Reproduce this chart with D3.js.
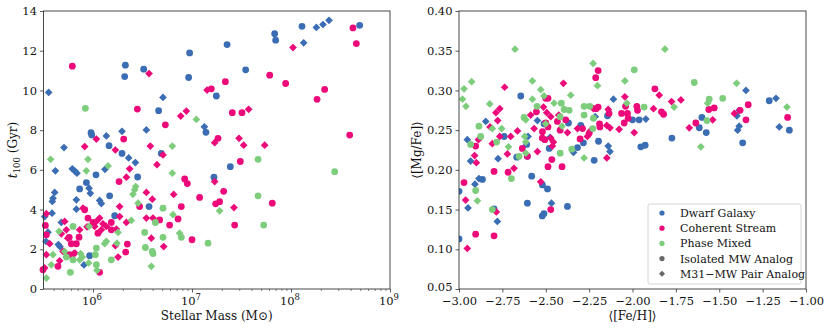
<!DOCTYPE html>
<html>
<head>
<meta charset="utf-8">
<script src="https://cdn.jsdelivr.net/npm/d3@7"></script>
<style>
  body { margin: 0; background: #fff; }
  svg { display: block; }
  text { font-family: "DejaVu Serif", serif; fill: #111; }
</style>
</head>
<body>
<div id="showBox"></div>
<script>
// host: 'I' = isolated MW analog (circle), 'P' = M31-MW pair analog (diamond)
// left panel: [log10 stellar mass, t100 (Gyr), host]
const massDwarf = [
  [8.384,13.53,'P'],[8.323,13.32,'P'],[8.256,13.17,'P'],[8.694,13.28,'I'],[8.111,13.23,'I'],
  [8.128,12.40,'P'],[7.835,12.86,'I'],[7.845,12.53,'I'],[7.354,12.31,'I'],[6.976,11.89,'I'],
  [6.327,11.27,'I'],[6.320,10.70,'I'],[6.512,11.07,'I'],[6.966,10.65,'I'],[7.542,11.04,'I'],
  [5.552,9.90,'P'],[6.707,9.65,'P'],[7.246,9.72,'I'],[6.663,8.98,'I'],[6.539,8.01,'P'],
  [6.293,7.94,'P'],[5.980,7.87,'I'],[5.987,7.76,'I'],[6.135,7.71,'P'],[7.125,8.17,'P'],
  [7.141,7.89,'I'],[5.707,7.12,'P'],[6.162,7.22,'I'],[6.293,6.83,'I'],[6.690,6.83,'I'],
  [6.360,6.60,'P'],[6.428,6.37,'P'],[6.121,6.03,'P'],[6.030,5.75,'I'],[6.451,5.64,'I'],
  [7.387,6.16,'I'],[7.222,5.63,'I'],[5.791,6.05,'P'],[5.815,5.95,'P'],[5.838,5.83,'P'],
  [5.620,5.95,'P'],[5.865,5.04,'I'],[5.832,4.49,'P'],[5.832,4.02,'P'],[5.933,5.36,'I'],
  [5.960,5.08,'P'],[5.973,4.82,'P'],[5.613,4.86,'P'],[5.596,4.57,'P'],[5.589,4.41,'P'],
  [5.586,3.82,'P'],[5.512,3.65,'P'],[6.067,4.46,'P'],[6.084,4.30,'P'],[6.168,4.69,'I'],
  [6.219,3.69,'I'],[6.566,4.15,'I'],[5.545,2.86,'P'],[5.525,2.40,'P'],[5.650,2.24,'P'],
  [5.667,2.13,'P'],[5.680,3.35,'P'],[5.909,1.21,'P'],[5.966,1.68,'I']
];
const massStream = [
  [5.791,11.22,'I'],[6.566,10.85,'P'],[6.448,9.06,'I'],[6.886,8.71,'P'],[6.943,8.96,'P'],
  [6.731,8.27,'I'],[6.310,7.55,'I'],[6.034,7.55,'P'],[5.916,7.17,'P'],[6.579,7.20,'P'],
  [6.226,7.00,'P'],[6.707,6.75,'P'],[6.646,6.26,'P'],[6.263,5.41,'I'],[6.337,5.63,'P'],
  [6.370,6.05,'P'],[6.539,4.86,'P'],[6.599,4.52,'P'],[6.926,5.54,'I'],[6.953,5.31,'I'],
  [6.774,3.22,'I'],[6.892,4.15,'I'],[6.815,4.76,'P'],[7.000,2.48,'I'],[6.714,2.14,'P'],
  [6.589,2.56,'P'],[6.539,3.57,'P'],[6.606,3.57,'P'],[6.673,3.48,'I'],[6.471,4.15,'I'],
  [6.337,3.35,'P'],[6.347,2.26,'I'],[6.330,1.86,'I'],[6.253,1.61,'P'],[6.226,2.18,'P'],
  [6.236,3.02,'P'],[6.185,3.35,'I'],[6.185,2.98,'I'],[6.269,3.65,'P'],[6.269,4.15,'P'],
  [6.067,3.57,'P'],[6.101,3.28,'P'],[6.000,3.35,'I'],[5.949,3.57,'I'],[5.916,3.99,'I'],
  [5.899,4.07,'P'],[5.865,2.98,'P'],[5.859,2.61,'I'],[5.832,2.28,'I'],[5.805,1.78,'P'],
  [5.731,2.98,'P'],[5.714,3.40,'P'],[5.697,1.89,'P'],[5.663,1.42,'P'],[5.646,1.14,'I'],
  [5.529,3.79,'P'],[5.562,2.28,'P'],[5.529,2.73,'I'],[5.519,3.20,'I'],[5.529,1.73,'P'],
  [5.495,0.97,'I'],[5.512,1.06,'P'],[6.067,0.84,'I'],[5.781,2.28,'I'],[5.764,1.73,'I'],
  [5.818,1.81,'P'],[6.034,3.40,'P'],[6.084,2.98,'P'],[6.050,2.81,'I'],[6.135,3.15,'P'],
  [6.017,3.15,'P'],[5.745,2.56,'P'],[5.760,2.60,'I'],[5.680,2.78,'P'],[5.940,3.13,'P'],
  [6.859,3.53,'I'],[7.077,4.61,'I'],[7.229,5.41,'P'],[7.263,7.59,'I'],[7.229,7.37,'P'],
  [7.152,10.02,'P'],[7.195,10.08,'I'],[7.337,10.44,'I'],[7.279,4.40,'I'],[7.239,4.29,'I'],
  [7.320,4.92,'I'],[7.407,8.88,'I'],[7.505,8.88,'I'],[7.572,9.05,'P'],[7.475,7.59,'P'],
  [7.522,7.24,'P'],[7.488,6.42,'I'],[7.424,4.10,'P'],[7.431,3.22,'I'],[7.734,7.24,'P'],
  [7.811,4.32,'I'],[7.785,10.77,'I'],[7.946,10.35,'I'],[8.020,12.16,'P'],[8.263,9.55,'I'],
  [8.340,10.05,'I'],[8.593,7.75,'I'],[8.626,13.15,'I'],[8.660,12.36,'I']
];
const massMixed = [
  [5.923,9.10,'I'],[7.044,8.54,'P'],[6.801,7.20,'P'],[6.801,5.83,'P'],[7.667,6.53,'I'],
  [8.441,5.91,'I'],[7.667,4.69,'I'],[7.724,3.22,'I'],[7.279,3.94,'P'],[7.162,2.31,'I'],
  [6.875,2.81,'P'],[6.892,2.60,'I'],[6.808,3.74,'P'],[6.707,4.07,'I'],[6.630,3.35,'I'],
  [6.707,2.60,'I'],[6.522,2.85,'I'],[6.529,2.09,'I'],[6.599,1.89,'I'],[6.606,1.78,'I'],
  [6.589,1.14,'P'],[6.431,5.16,'P'],[6.421,5.00,'P'],[6.404,4.77,'P'],[6.455,4.32,'P'],
  [6.387,3.45,'P'],[6.253,2.85,'P'],[6.242,2.31,'P'],[6.185,1.47,'I'],[6.135,2.40,'P'],
  [6.118,2.28,'P'],[6.034,2.06,'I'],[6.024,1.73,'I'],[6.034,1.22,'I'],[6.040,0.94,'P'],
  [6.152,6.20,'P'],[5.949,6.53,'P'],[5.933,5.95,'P'],[5.960,3.15,'P'],[5.956,1.31,'P'],
  [5.892,1.61,'P'],[5.875,1.78,'P'],[5.865,1.47,'P'],[5.798,1.47,'I'],[5.771,0.84,'I'],
  [5.798,3.15,'I'],[5.731,1.61,'I'],[5.714,1.89,'P'],[5.657,2.90,'P'],[5.596,1.73,'P'],
  [5.579,1.22,'P'],[5.529,0.55,'P'],[5.572,6.53,'P']
];

// right panel: [<[Fe/H]>, <[Mg/Fe]>, host]
const abundDwarf = [
  [-2.644,0.293,'I'],[-2.846,0.261,'P'],[-2.952,0.238,'P'],[-2.933,0.211,'P'],[-2.908,0.182,'P'],
  [-2.885,0.189,'P'],[-2.865,0.188,'I'],[-3.000,0.173,'I'],[-3.000,0.113,'I'],[-2.948,0.152,'P'],
  [-2.798,0.151,'I'],[-2.779,0.135,'P'],[-2.775,0.214,'P'],[-2.740,0.242,'I'],[-2.667,0.216,'I'],
  [-2.606,0.217,'I'],[-2.610,0.232,'I'],[-2.602,0.242,'P'],[-2.581,0.192,'I'],[-2.606,0.158,'I'],
  [-2.548,0.262,'P'],[-2.510,0.258,'I'],[-2.519,0.181,'I'],[-2.490,0.176,'I'],[-2.510,0.145,'I'],
  [-2.520,0.142,'I'],[-2.467,0.158,'P'],[-2.480,0.227,'I'],[-2.475,0.241,'P'],[-2.375,0.154,'I'],
  [-2.369,0.259,'I'],[-2.340,0.222,'P'],[-2.317,0.228,'I'],[-2.298,0.256,'I'],[-2.283,0.234,'I'],
  [-2.215,0.267,'P'],[-2.221,0.212,'I'],[-2.196,0.236,'I'],[-2.144,0.268,'I'],[-2.140,0.230,'P'],
  [-2.130,0.223,'P'],[-2.110,0.289,'P'],[-2.000,0.263,'I'],[-1.962,0.263,'I'],[-1.923,0.264,'P'],
  [-1.952,0.229,'I'],[-1.927,0.231,'I'],[-1.773,0.240,'I'],[-1.615,0.253,'I'],[-1.600,0.266,'I'],
  [-1.575,0.247,'I'],[-1.398,0.268,'P'],[-1.385,0.275,'P'],[-1.394,0.250,'P'],[-1.385,0.255,'P'],
  [-1.365,0.234,'I'],[-1.346,0.300,'P'],[-1.212,0.287,'I'],[-1.173,0.290,'P'],[-1.154,0.254,'P'],
  [-1.096,0.250,'I']
];
const abundStream = [
  [-2.737,0.304,'P'],[-2.398,0.309,'P'],[-2.212,0.316,'I'],[-2.198,0.325,'I'],[-2.765,0.277,'P'],
  [-2.787,0.272,'P'],[-2.777,0.262,'P'],[-2.821,0.254,'P'],[-2.765,0.242,'P'],[-2.808,0.233,'P'],
  [-2.888,0.238,'P'],[-2.904,0.230,'I'],[-2.910,0.218,'P'],[-2.900,0.209,'P'],[-2.971,0.184,'I'],
  [-2.962,0.162,'P'],[-2.952,0.101,'P'],[-2.904,0.119,'I'],[-2.798,0.198,'I'],[-2.798,0.117,'I'],
  [-2.785,0.147,'P'],[-2.721,0.220,'P'],[-2.702,0.242,'P'],[-2.717,0.197,'I'],[-2.663,0.249,'P'],
  [-2.683,0.202,'P'],[-2.635,0.227,'I'],[-2.606,0.217,'I'],[-2.587,0.269,'P'],[-2.554,0.273,'I'],
  [-2.567,0.252,'P'],[-2.520,0.240,'I'],[-2.519,0.248,'I'],[-2.505,0.238,'I'],[-2.548,0.223,'P'],
  [-2.529,0.185,'P'],[-2.513,0.279,'P'],[-2.487,0.290,'I'],[-2.500,0.290,'I'],[-2.494,0.272,'P'],
  [-2.500,0.259,'I'],[-2.487,0.254,'I'],[-2.487,0.204,'I'],[-2.471,0.267,'P'],[-2.471,0.240,'P'],
  [-2.462,0.230,'P'],[-2.456,0.235,'P'],[-2.465,0.213,'I'],[-2.471,0.150,'I'],[-2.433,0.261,'I'],
  [-2.425,0.269,'P'],[-2.406,0.204,'I'],[-2.417,0.250,'I'],[-2.385,0.263,'I'],[-2.375,0.247,'P'],
  [-2.317,0.252,'P'],[-2.302,0.239,'I'],[-2.288,0.252,'I'],[-2.260,0.242,'P'],[-2.250,0.246,'I'],
  [-2.240,0.250,'P'],[-2.225,0.277,'P'],[-2.210,0.277,'I'],[-2.198,0.279,'I'],[-2.190,0.258,'I'],
  [-2.188,0.254,'I'],[-2.148,0.256,'P'],[-2.130,0.253,'P'],[-2.148,0.215,'P'],[-2.140,0.276,'P'],
  [-2.135,0.271,'I'],[-2.077,0.251,'P'],[-2.063,0.271,'I'],[-2.044,0.292,'P'],[-2.048,0.259,'I'],
  [-2.040,0.280,'I'],[-2.029,0.271,'I'],[-2.025,0.265,'I'],[-1.990,0.247,'P'],[-1.975,0.280,'I'],
  [-1.971,0.275,'I'],[-1.879,0.277,'P'],[-1.871,0.302,'I'],[-1.846,0.294,'P'],[-1.833,0.273,'I'],
  [-1.821,0.270,'I'],[-1.775,0.286,'P'],[-1.721,0.288,'P'],[-1.673,0.253,'P'],[-1.635,0.259,'I'],
  [-1.560,0.276,'I'],[-1.538,0.263,'P'],[-1.529,0.278,'I'],[-1.413,0.271,'P'],[-1.380,0.275,'I'],
  [-1.346,0.263,'I'],[-1.333,0.282,'I'],[-1.106,0.266,'I']
];
const abundMixed = [
  [-2.677,0.352,'P'],[-1.813,0.352,'P'],[-2.227,0.334,'P'],[-1.990,0.326,'I'],[-2.044,0.312,'P'],
  [-1.644,0.310,'I'],[-1.400,0.309,'P'],[-2.927,0.311,'P'],[-2.971,0.302,'P'],[-2.980,0.289,'P'],
  [-2.960,0.280,'P'],[-2.577,0.312,'P'],[-2.529,0.301,'P'],[-2.510,0.293,'P'],[-2.577,0.289,'P'],
  [-2.550,0.280,'I'],[-2.823,0.283,'P'],[-2.452,0.284,'P'],[-2.410,0.284,'I'],[-2.356,0.294,'P'],
  [-2.365,0.275,'I'],[-2.394,0.276,'I'],[-2.279,0.280,'I'],[-2.246,0.280,'I'],[-2.279,0.269,'I'],
  [-2.225,0.265,'I'],[-2.202,0.306,'P'],[-2.033,0.284,'P'],[-1.933,0.279,'I'],[-1.760,0.279,'P'],
  [-1.558,0.289,'I'],[-1.480,0.290,'I'],[-1.567,0.284,'P'],[-1.571,0.262,'I'],[-1.606,0.229,'P'],
  [-1.110,0.279,'P'],[-2.885,0.255,'I'],[-2.875,0.242,'I'],[-2.933,0.232,'I'],[-2.808,0.252,'P'],
  [-2.754,0.252,'P'],[-2.715,0.229,'P'],[-2.698,0.189,'I'],[-2.808,0.150,'I'],[-2.904,0.174,'I'],
  [-2.894,0.161,'P'],[-2.783,0.235,'I'],[-2.625,0.266,'I'],[-2.615,0.263,'P'],[-2.621,0.242,'P'],
  [-2.615,0.235,'P'],[-2.615,0.221,'P'],[-2.654,0.217,'I'],[-2.417,0.267,'I'],[-2.406,0.255,'P'],
  [-2.417,0.221,'I'],[-2.350,0.226,'I'],[-2.279,0.215,'P'],[-2.229,0.252,'I'],[-2.500,0.258,'P']
];

const categories = ["Dwarf Galaxy", "Coherent Stream", "Phase Mixed"];
const catColors = ["#3a6db4", "#ec0a7a", "#7dcd7d"];
const hostLabels = ["Isolated MW Analog", "M31\u2212MW Pair Analog"];
const hostColor = "#666666";

const yTicksLeft = [0, 2, 4, 6, 8, 10, 12, 14];
const xTicksLeft = [6, 7, 8, 9];          // exponents of 10
const xTicksRight = [-3, -2.75, -2.5, -2.25, -2, -1.75, -1.5, -1.25, -1];
const yTicksRight = [0.05, 0.10, 0.15, 0.20, 0.25, 0.30, 0.35, 0.40];

const W = 831, H = 329;
const FS = 11.5;
const svg = d3.select("#showBox").append("svg").attr("width", W).attr("height", H);

const minus = s => s.replace("-", "\u2212");

function drawMarks(g, x, y, rows, color, xv) {
  const circles = rows.filter(d => d[2] === 'I');
  const diamonds = rows.filter(d => d[2] === 'P');
  g.selectAll(null).data(circles).join("circle")
    .attr("cx", d => x(xv(d[0]))).attr("cy", d => y(d[1]))
    .attr("r", 3.4).attr("fill", color);
  g.selectAll(null).data(diamonds).join("path")
    .attr("d", d3.symbol(d3.symbolSquare, 30))
    .attr("transform", d => `translate(${x(xv(d[0]))},${y(d[1])}) rotate(45)`)
    .attr("fill", color);
}

function frame(g, left, right, top, bottom) {
  g.append("rect").attr("x", left).attr("y", top)
    .attr("width", right - left).attr("height", bottom - top)
    .attr("fill", "none").attr("stroke", "#333").attr("stroke-width", 0.9);
}

// ---------- left panel ----------
{
  const L = 43.5, R = 390, T = 11, B = 289;
  const x = d3.scaleLog().domain([10 ** 5.5, 1e9]).range([L, R]);
  const y = d3.scaleLinear().domain([0, 14]).range([B, T]);
  const g = svg.append("g");

  const marks = g.append("g");
  drawMarks(marks, x, y, massDwarf, catColors[0], v => 10 ** v);
  drawMarks(marks, x, y, massStream, catColors[1], v => 10 ** v);
  drawMarks(marks, x, y, massMixed, catColors[2], v => 10 ** v);

  // minor log ticks
  const minor = x.ticks().filter(v => Math.abs(Math.log10(v) % 1) > 1e-6);
  g.append("g").attr("transform", `translate(0,${B})`)
    .call(d3.axisBottom(x).tickValues(minor).tickSize(2).tickFormat(""))
    .call(a => a.select(".domain").remove())
    .selectAll("line").attr("stroke", "#333").attr("stroke-width", 0.6);

  const xa = g.append("g").attr("transform", `translate(0,${B})`)
    .call(d3.axisBottom(x).tickValues(xTicksLeft.map(e => 10 ** e)).tickSize(3.5).tickFormat(""));
  xa.select(".domain").remove();
  xa.selectAll("line").attr("stroke", "#333").attr("stroke-width", 0.8);
  xTicksLeft.forEach(e => {
    const t = g.append("text").attr("x", x(10 ** e) - 1).attr("y", 305)
      .attr("text-anchor", "middle").attr("font-size", FS);
    t.append("tspan").text("10");
    t.append("tspan").attr("dy", -5).attr("font-size", 8.5).text(e);
  });

  const ya = g.append("g").attr("transform", `translate(${L},0)`)
    .call(d3.axisLeft(y).tickValues(yTicksLeft).tickSize(3.5).tickPadding(3).tickFormat(d3.format("d")));
  ya.select(".domain").remove();
  ya.selectAll("line").attr("stroke", "#333").attr("stroke-width", 0.8);
  ya.selectAll("text").attr("font-size", FS).attr("font-family", "DejaVu Serif").attr("fill", "#111");

  frame(g, L, R, T, B);

  g.append("text").attr("x", (L + R) / 2).attr("y", 320).attr("text-anchor", "middle")
    .attr("font-size", 12).text("Stellar Mass (M\u2299)");
  const yl = g.append("text").attr("transform", `translate(17,${(T + B) / 2}) rotate(-90)`)
    .attr("text-anchor", "middle").attr("font-size", 12);
  yl.append("tspan").attr("font-style", "italic").text("t");
  yl.append("tspan").attr("font-size", 8.5).attr("dy", 3).text("100");
  yl.append("tspan").attr("dy", -3).text(" (Gyr)");
}

// ---------- right panel ----------
{
  const L = 459, R = 806, T = 11, B = 289;
  const x = d3.scaleLinear().domain([-3, -1]).range([L, R]);
  const y = d3.scaleLinear().domain([0.05, 0.40]).range([B, T]);
  const g = svg.append("g");
  const clip = svg.append("clipPath").attr("id", "clipR");
  clip.append("rect").attr("x", L).attr("y", T).attr("width", R - L).attr("height", B - T);

  const marks = g.append("g").attr("clip-path", "url(#clipR)");
  drawMarks(marks, x, y, abundDwarf, catColors[0], v => v);
  drawMarks(marks, x, y, abundStream, catColors[1], v => v);
  drawMarks(marks, x, y, abundMixed, catColors[2], v => v);

  const xa = g.append("g").attr("transform", `translate(0,${B})`)
    .call(d3.axisBottom(x).tickValues(xTicksRight).tickSize(3.5).tickPadding(4)
      .tickFormat(d => minus(d3.format(".2f")(d))));
  xa.select(".domain").remove();
  xa.selectAll("line").attr("stroke", "#333").attr("stroke-width", 0.8);
  xa.selectAll("text").attr("font-size", FS).attr("font-family", "DejaVu Serif").attr("fill", "#111");

  const ya = g.append("g").attr("transform", `translate(${L},0)`)
    .call(d3.axisLeft(y).tickValues(yTicksRight).tickSize(3.5).tickPadding(3).tickFormat(d3.format(".2f")));
  ya.select(".domain").remove();
  ya.selectAll("line").attr("stroke", "#333").attr("stroke-width", 0.8);
  ya.selectAll("text").attr("font-size", FS).attr("font-family", "DejaVu Serif").attr("fill", "#111");
  // lowest label sits just above the x tick labels, as in the original
  ya.selectAll("text").filter(d => d === 0.05).attr("dy", "0.15em");

  frame(g, L, R, T, B);

  g.append("text").attr("x", (L + R) / 2).attr("y", 320).attr("text-anchor", "middle")
    .attr("font-size", 12).text("\u27e8[Fe/H]\u27e9");
  g.append("text").attr("transform", `translate(421,${(T + B) / 2}) rotate(-90)`)
    .attr("text-anchor", "middle").attr("font-size", 12).text("\u27e8[Mg/Fe]\u27e9");

  // legend
  const lg = g.append("g");
  lg.append("rect").attr("x", 648).attr("y", 204).attr("width", 153).attr("height", 80)
    .attr("rx", 2).attr("fill", "#fff").attr("fill-opacity", 0.85)
    .attr("stroke", "#ccc").attr("stroke-width", 0.8);
  const items = categories.map((c, i) => ({ label: c, color: catColors[i], shape: "c" }))
    .concat([{ label: hostLabels[0], color: hostColor, shape: "c" },
             { label: hostLabels[1], color: hostColor, shape: "d" }]);
  items.forEach((it, i) => {
    const yy = 213 + i * 15.2;
    if (it.shape === "c") {
      lg.append("circle").attr("cx", 662).attr("cy", yy).attr("r", 2.6).attr("fill", it.color);
    } else {
      lg.append("path").attr("d", d3.symbol(d3.symbolSquare, 18))
        .attr("transform", `translate(662,${yy}) rotate(45)`).attr("fill", it.color);
    }
    lg.append("text").attr("x", 680).attr("y", yy + 4).attr("font-size", 11).text(it.label);
  });
}
</script>
</body>
</html>
